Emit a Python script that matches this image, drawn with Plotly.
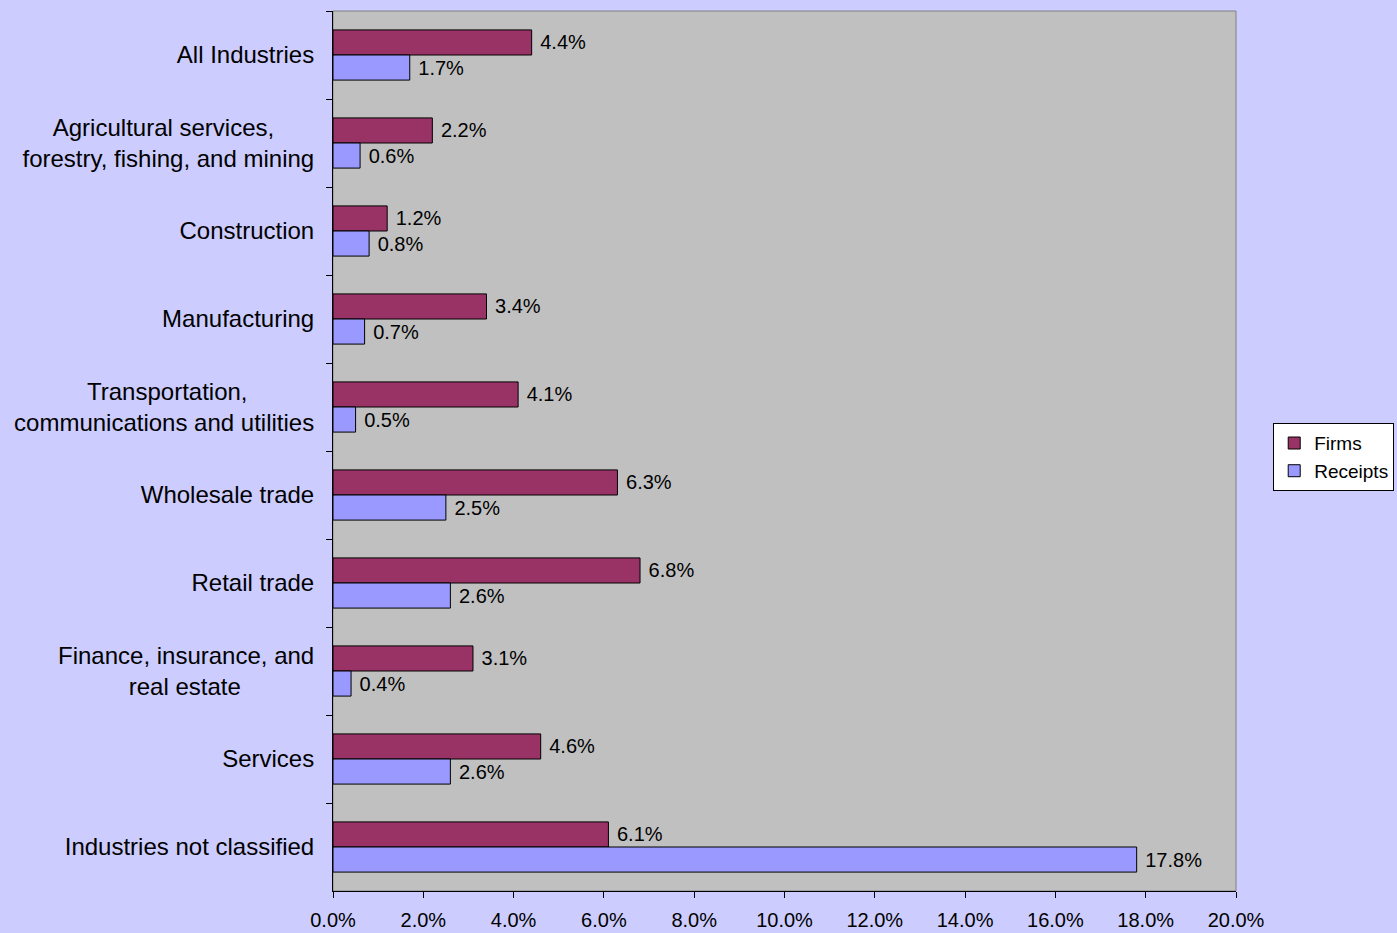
import plotly.graph_objects as go

NB = "\u00a0"
industries = [
    "All Industries",
    "Agricultural services," + NB * 6 + "<br>forestry, fishing, and mining",
    "Construction",
    "Manufacturing",
    "Transportation," + NB * 10 + "<br>communications and utilities",
    "Wholesale trade",
    "Retail trade",
    "Finance, insurance, and<br>real estate" + NB * 11,
    "Services",
    "Industries not classified",
]
firms = [4.4, 2.2, 1.2, 3.4, 4.1, 6.3, 6.8, 3.1, 4.6, 6.1]
receipts = [1.7, 0.6, 0.8, 0.7, 0.5, 2.5, 2.6, 0.4, 2.6, 17.8]

FONT = "Liberation Sans, Arial, sans-serif"

fig = go.Figure()
for name, vals, color in [("Firms", firms, "#993366"), ("Receipts", receipts, "#9999FF")]:
    fig.add_trace(go.Bar(
        name=name, y=industries, x=vals, orientation="h",
        marker=dict(color=color, line=dict(color="black", width=1)),
        text=[f" {v:.1f}%" for v in vals], textposition="outside",
        textfont=dict(size=20, color="black", family=FONT),
        cliponaxis=False,
    ))

# gray frame on top/right of the plot area
fig.add_shape(type="rect", xref="paper", yref="paper", x0=0, x1=1, y0=0, y1=1,
              line=dict(color="#808080", width=1), layer="below")

fig.update_layout(
    width=1397, height=933,
    margin=dict(l=333, r=161, t=11, b=42),
    paper_bgcolor="#CCCCFF", plot_bgcolor="#C0C0C0",
    barmode="group", bargap=0.43, bargroupgap=0,
    font=dict(family=FONT, color="black", size=20),
    legend=dict(xref="container", yref="container", x=0.998, y=0.51,
                xanchor="right", yanchor="middle",
                bgcolor="white", bordercolor="black", borderwidth=1,
                font=dict(size=19), traceorder="normal", itemwidth=30),
    xaxis=dict(range=[0, 20], dtick=2, ticksuffix="%", tickformat=".1f",
               showgrid=False, zeroline=False, showline=True, linecolor="black",
               ticks="outside", ticklen=6, tickcolor="black", automargin=False,
               ticklabelstandoff=5, tickfont=dict(size=20)),
    yaxis=dict(autorange="reversed", showgrid=False, showline=True,
               linecolor="black", ticks="outside", ticklen=6, tickcolor="black",
               tickson="boundaries", ticklabelstandoff=13, automargin=False,
               tickfont=dict(size=24)),
)

fig.write_html(
    "out.html",
    config={"displayModeBar": False},
    post_script="document.body.style.margin='0';document.body.style.overflow='hidden';",
)
